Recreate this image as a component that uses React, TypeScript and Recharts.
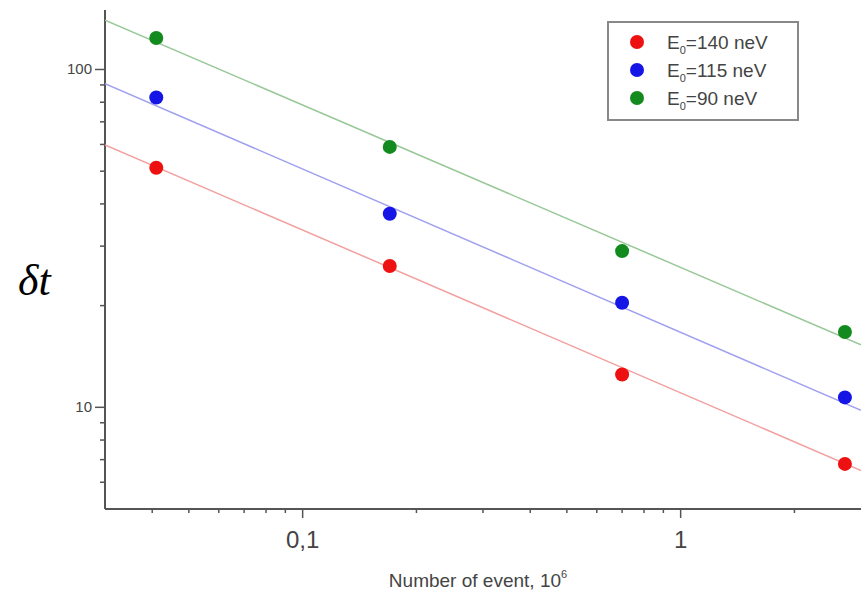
import React from "react";
import { ScatterChart, Scatter, XAxis, YAxis } from "recharts";

// measured points (x in 10^6 events, y = δt)
const eventsX = [0.041, 0.17, 0.7, 2.72];
const dt140 = [51.2, 26.2, 12.5, 6.8];
const dt115 = [82.6, 37.4, 20.4, 10.7];
const dt90 = [124, 59, 29, 16.7];

// fitted power-law lines, read at the axis ends
const fitX = [0.03, 3];
const fit140 = [59.8, 6.5];
const fit115 = [90.8, 9.8];
const fit90 = [140, 15.3];

const xTicks = [0.04, 0.05, 0.06, 0.07, 0.08, 0.09, 0.1, 0.2, 0.3, 0.4, 0.5, 0.6, 0.7, 0.8, 0.9, 1, 2];
const xLabels: Record<number, string> = { 0.1: "0,1", 1: "1" };
const yTicks = [6, 7, 8, 9, 10, 20, 30, 40, 50, 60, 70, 80, 90, 100];
const yLabels: Record<number, string> = { 10: "10", 100: "100" };

const legendNames = ["140 neV", "115 neV", "90 neV"];

const series = [
  { name: legendNames[0], dots: dt140, fit: fit140, dot: "#ee1111", line: "#f2a0a0" },
  { name: legendNames[1], dots: dt115, fit: fit115, dot: "#1515e6", line: "#a0a0f0" },
  { name: legendNames[2], dots: dt90, fit: fit90, dot: "#138a1e", line: "#98c898" },
];

const toPoints = (xs: number[], ys: number[]) => xs.map((x, i) => ({ x, y: ys[i] }));

const axisColor = "#555";
const textColor = "#444";
const font = "'Liberation Sans', Arial, sans-serif";

const XTick = (props: any) => {
  const { x, y, payload } = props;
  const label = xLabels[payload.value];
  return (
    <g>
      <line x1={x} x2={x} y1={y} y2={y + (label ? 9 : 4)} stroke={axisColor} strokeWidth={1.5} />
      {label && (
        <text x={x} y={y + 39} textAnchor="middle" fontSize={24} fill={textColor} fontFamily={font}>
          {label}
        </text>
      )}
    </g>
  );
};

const YTick = (props: any) => {
  const { x, y, payload } = props;
  const label = yLabels[payload.value];
  return (
    <g>
      <line x1={x} x2={x - (label ? 10 : 5)} y1={y} y2={y} stroke={axisColor} strokeWidth={1.5} />
      {label && (
        <text x={x - 13} y={y + 5} textAnchor="end" fontSize={15} fill={textColor} fontFamily={font}>
          {label}
        </text>
      )}
    </g>
  );
};

export default function App() {
  return (
    <div style={{ position: "absolute", left: 0, top: 0, width: 861, height: 594, background: "#fff" }}>
      <ScatterChart width={861} height={594} margin={{ top: 10, right: 0, bottom: 0, left: 0 }}>
        <XAxis
          type="number"
          dataKey="x"
          scale="log"
          domain={[0.03, 3]}
          allowDataOverflow
          ticks={xTicks}
          interval={0}
          height={85}
          tickSize={0}
          tickMargin={0}
          tickLine={false}
          tick={<XTick />}
          axisLine={{ stroke: axisColor, strokeWidth: 2 }}
        />
        <YAxis
          type="number"
          dataKey="y"
          scale="log"
          domain={[5, 150]}
          allowDataOverflow
          ticks={yTicks}
          interval={0}
          width={105}
          tickSize={0}
          tickMargin={0}
          tickLine={false}
          tick={<YTick />}
          axisLine={{ stroke: axisColor, strokeWidth: 2 }}
        />
        {series.map((s) => (
          <Scatter
            key={"fit" + s.name}
            data={toPoints(fitX, s.fit)}
            line={{ stroke: s.line, strokeWidth: 1.5 }}
            shape={() => <g />}
            isAnimationActive={false}
          />
        ))}
        {series.map((s) => (
          <Scatter
            key={"pts" + s.name}
            data={toPoints(eventsX, s.dots)}
            fill={s.dot}
            shape={(p: any) => <circle cx={p.cx} cy={p.cy} r={7} fill={s.dot} />}
            isAnimationActive={false}
          />
        ))}
      </ScatterChart>

      <svg width={861} height={594} style={{ position: "absolute", left: 0, top: 0, pointerEvents: "none" }}>
        <text x={18} y={295} fontSize={44} fontStyle="italic" fontFamily="'Liberation Serif', 'Times New Roman', serif" fill="#000">
          δt
        </text>
        <text x={478} y={587} textAnchor="middle" fontSize={19} fill={textColor} fontFamily={font}>
          Number of event, 10
          <tspan fontSize={11} dy={-9}>6</tspan>
        </text>
        <rect x={608} y={22} width={190} height={98} fill="#fff" stroke="#888" strokeWidth={2} />
        {series.map((s, i) => {
          const cy = 42 + i * 28;
          return (
            <g key={"leg" + s.name}>
              <circle cx={637} cy={cy} r={7} fill={s.dot} />
              <text x={667} y={cy + 7} fontSize={19} fill={textColor} fontFamily={font}>
                E
                <tspan fontSize={11} dy={5}>0</tspan>
                <tspan dy={-5}>={s.name}</tspan>
              </text>
            </g>
          );
        })}
      </svg>
    </div>
  );
}
